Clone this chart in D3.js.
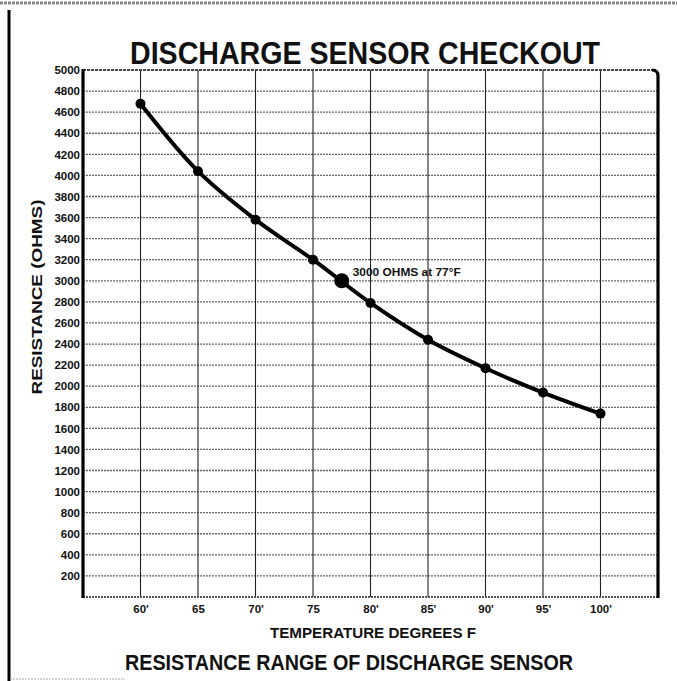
<!doctype html>
<html lang="en">
<head>
    <meta charset="utf-8" />
    <title>Discharge Sensor Checkout</title>
    <script src="https://d3js.org/d3.v7.min.js"></script>
    <style>
        body { margin: 0; background: #fff; }
        text { font-family: "Liberation Sans", Arial, sans-serif; font-weight: bold; fill: #111; }
    </style>
</head>
<body>
    <div id="chart"></div>
    <script>
        // data
        const temps = [60, 65, 70, 75, 80, 85, 90, 95, 100];
        const ohms = [4680, 4040, 3580, 3200, 2790, 2440, 2170, 1940, 1740];
        const xLabels = ["60'", "65", "70'", "75", "80'", "85'", "90'", "95'", "100'"];
        const yTicks = [200, 400, 600, 800, 1000, 1200, 1400, 1600, 1800, 2000, 2200, 2400,
            2600, 2800, 3000, 3200, 3400, 3600, 3800, 4000, 4200, 4400, 4600, 4800, 5000];
        const markTemp = [77.5];
        const markOhms = [3000];
        const markText = "3000 OHMS at 77\u00b0F";

        const W = 677, H = 681;
        const svg = d3.select("#chart").append("svg")
            .attr("width", W).attr("height", H);

        const x = d3.scaleLinear().domain([55, 105]).range([83, 658]);
        const y = d3.scaleLinear().domain([0, 5000]).range([597, 70]);

        // outer frame
        svg.append("line").attr("x1", 0).attr("x2", W).attr("y1", 3).attr("y2", 3)
            .attr("stroke", "#888").attr("stroke-width", 3).attr("stroke-dasharray", "3,1");
        svg.append("line").attr("x1", 9).attr("x2", 9).attr("y1", 10).attr("y2", H)
            .attr("stroke", "#000").attr("stroke-width", 3);
        svg.append("line").attr("x1", 10).attr("x2", 125).attr("y1", 679).attr("y2", 679)
            .attr("stroke", "#aaa").attr("stroke-width", 1).attr("stroke-dasharray", "2,1");

        // horizontal grid (stippled)
        svg.append("g").selectAll("line")
            .data(yTicks.filter(d => d < 5000))
            .join("line")
            .attr("x1", x(55)).attr("x2", x(105))
            .attr("y1", d => y(d)).attr("y2", d => y(d))
            .attr("stroke", "#666").attr("stroke-width", 1.3)
            .attr("stroke-dasharray", "2,1");

        // vertical grid
        svg.append("g").selectAll("line")
            .data(temps)
            .join("line")
            .attr("x1", d => x(d)).attr("x2", d => x(d))
            .attr("y1", y(5000)).attr("y2", y(0))
            .attr("stroke", "#222").attr("stroke-width", 1.1);

        // plot border
        svg.append("line").attr("x1", x(55)).attr("x2", x(105) - 3).attr("y1", y(5000)).attr("y2", y(5000))
            .attr("stroke", "#444").attr("stroke-width", 2.2).attr("stroke-dasharray", "3,1");
        svg.append("line").attr("x1", x(55)).attr("x2", x(105)).attr("y1", y(0)).attr("y2", y(0))
            .attr("stroke", "#555").attr("stroke-width", 2.2).attr("stroke-dasharray", "2,1");
        svg.append("line").attr("x1", x(55)).attr("x2", x(55)).attr("y1", y(5000) - 1).attr("y2", y(0) + 1)
            .attr("stroke", "#000").attr("stroke-width", 3.2);
        svg.append("path")
            .attr("d", `M${x(105) - 6},${y(5000)} Q${x(105)},${y(5000)} ${x(105)},${y(5000) + 6} L${x(105)},${y(0) + 1}`)
            .attr("fill", "none").attr("stroke", "#000").attr("stroke-width", 3.2);

        // axes
        const yAxis = svg.append("g")
            .attr("transform", `translate(${x(55)},0)`)
            .call(d3.axisLeft(y).tickValues(yTicks).tickSize(0).tickPadding(3)
                .tickFormat(d3.format("d")));
        yAxis.select(".domain").remove();
        yAxis.selectAll("text").attr("font-size", 11.5).style("font-family", "'Liberation Sans', Arial, sans-serif")
            .attr("fill", "#111");

        const xAxis = svg.append("g")
            .attr("transform", `translate(0,${y(0)})`)
            .call(d3.axisBottom(x).tickValues(temps).tickSize(0).tickPadding(8)
                .tickFormat((d, i) => xLabels[i]));
        xAxis.select(".domain").remove();
        xAxis.selectAll("text").attr("font-size", 11.5).style("font-family", "'Liberation Sans', Arial, sans-serif")
            .attr("fill", "#111");

        // curve
        const pts = temps.map((t, i) => [t, ohms[i]]);
        svg.append("path")
            .datum(pts)
            .attr("fill", "none").attr("stroke", "#000").attr("stroke-width", 4)
            .attr("d", d3.line().x(d => x(d[0])).y(d => y(d[1])).curve(d3.curveCatmullRom));

        svg.append("g").selectAll("circle")
            .data(pts)
            .join("circle")
            .attr("cx", d => x(d[0])).attr("cy", d => y(d[1])).attr("r", 5)
            .attr("fill", "#000");

        svg.append("circle")
            .attr("cx", x(markTemp[0])).attr("cy", y(markOhms[0])).attr("r", 7.5)
            .attr("fill", "#000");

        svg.append("text")
            .attr("x", x(markTemp[0]) + 11).attr("y", y(markOhms[0]) - 5)
            .attr("font-size", 10.5)
            .attr("textLength", 108).attr("lengthAdjust", "spacingAndGlyphs")
            .text(markText);

        // titles
        svg.append("text")
            .attr("x", 365).attr("y", 64).attr("text-anchor", "middle")
            .attr("font-size", 32)
            .attr("textLength", 470).attr("lengthAdjust", "spacingAndGlyphs")
            .text("DISCHARGE SENSOR CHECKOUT");

        svg.append("text")
            .attr("transform", "translate(42,297) rotate(-90)")
            .attr("text-anchor", "middle")
            .attr("font-size", 15)
            .attr("textLength", 195).attr("lengthAdjust", "spacingAndGlyphs")
            .text("RESISTANCE (OHMS)");

        svg.append("text")
            .attr("x", 373).attr("y", 638).attr("text-anchor", "middle")
            .attr("font-size", 14.5)
            .attr("textLength", 206).attr("lengthAdjust", "spacingAndGlyphs")
            .text("TEMPERATURE DEGREES F");

        svg.append("text")
            .attr("x", 349).attr("y", 670).attr("text-anchor", "middle")
            .attr("font-size", 22)
            .attr("textLength", 448).attr("lengthAdjust", "spacingAndGlyphs")
            .text("RESISTANCE RANGE OF DISCHARGE SENSOR");
    </script>
</body>
</html>
